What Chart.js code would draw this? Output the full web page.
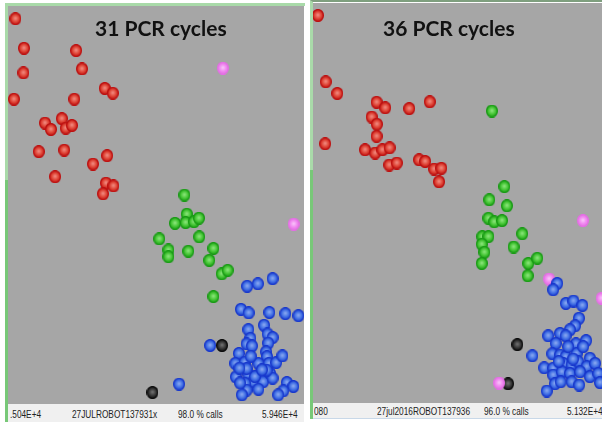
<!DOCTYPE html>
<html>
<head>
<meta charset="utf-8">
<title>31 vs 36 PCR cycles</title>
<script src="https://cdn.jsdelivr.net/npm/chart.js@4.4.0/dist/chart.umd.min.js"></script>
<style>
  body { margin: 0; width: 602px; height: 422px; background: #fff; position: relative; overflow: hidden; font-family: "Liberation Sans", Arial, sans-serif; }
  .frame { position: absolute; box-sizing: border-box; }
  .plot { position: absolute; background: #a6a6a6; }
  .title { position: absolute; font-family: Lato, "Open Sans", sans-serif; font-weight: bold; font-size: 21px; color: #111; white-space: nowrap; }
  .footer { position: absolute; background: #f0f0f0; }
  .footer span { position: absolute; font-size: 11.5px; color: #222; white-space: nowrap; transform: scaleX(0.72); transform-origin: left center; }
</style>
</head>
<body>
<div class="frame" style="left:5px;top:3px;width:300px;height:419px;border-left:3px solid #a9daa9;border-top:3px solid #a9daa9;"></div>
<div class="frame" style="left:5px;top:180px;width:3px;height:242px;background:#78c878;"></div>
<div class="plot" style="left:8px;top:6px;width:296px;height:398px;"><canvas id="chart31" width="296" height="398"></canvas></div>
<div class="title" id="title31" style="left:95px;top:15px;">31 PCR cycles</div>
<div class="footer" style="left:8px;top:404px;width:296px;height:18px;">
  <span style="left:2px;top:4px;">.504E+4</span>
  <span style="left:64px;top:4px;">27JULROBOT137931x</span>
  <span style="left:170px;top:4px;">98.0 % calls</span>
  <span style="left:254px;top:4px;">5.946E+4</span>
</div>

<div class="frame" style="left:310px;top:0px;width:292px;height:419px;border-left:3px solid #a9daa9;border-top:2px solid #7f9f7f;"></div>
<div class="frame" style="left:310px;top:170px;width:3px;height:249px;background:#78c878;"></div>
<div class="plot" style="left:313px;top:3px;width:289px;height:400px;"><canvas id="chart36" width="289" height="400"></canvas></div>
<div class="title" id="title36" style="left:383px;top:15px;">36 PCR cycles</div>
<div class="footer" style="left:313px;top:403px;width:289px;height:15px;border-bottom:1px solid #c8d8e8;">
  <span style="left:1px;top:2px;">080</span>
  <span style="left:64px;top:2px;">27jul2016ROBOT137936</span>
  <span style="left:171px;top:2px;">96.0 % calls</span>
  <span style="left:254px;top:2px;">5.132E+4</span>
</div>

<script>
// normalised allele signal, [x, y] in 0-100
const pcr31Red = [[2.5,96.8],[5.4,89.4],[23.0,88.8],[5.2,83.2],[25.0,84.2],[2.0,76.6],[22.4,76.6],[32.7,79.3],[35.4,78.1],[12.5,70.6],[14.5,69.0],[18.2,71.7],[19.5,69.3],[21.6,70.0],[10.4,63.4],[19.0,63.8],[33.5,62.4],[28.7,60.3],[15.9,57.1],[33.1,55.5],[35.6,54.8],[32.1,52.8]];
const pcr31Green = [[59.6,52.5],[60.4,47.7],[60.0,45.6],[56.4,45.4],[62.8,45.8],[64.5,46.7],[51.1,41.5],[64.6,42.0],[54.2,38.7],[54.2,37.0],[60.9,38.4],[69.4,39.1],[68.0,36.1],[72.2,32.7],[74.2,33.6],[69.4,27.0]];
const pcr31Blue = [[80.8,29.6],[84.4,30.2],[89.4,31.5],[78.7,23.8],[81.3,22.9],[88.3,23.0],[93.7,22.7],[98.1,22.2],[86.5,19.8],[81.2,18.7],[81.9,16.5],[80.6,15.1],[82.4,14.6],[87.7,17.6],[89.4,16.7],[87.9,15.3],[87.2,13.1],[87.5,11.9],[88.1,10.2],[78.0,12.7],[76.8,10.2],[80.0,10.5],[84.6,10.2],[90.6,10.4],[92.7,12.1],[77.0,6.8],[81.2,7.5],[84.6,7.3],[82.9,5.6],[80.1,5.2],[86.2,5.6],[88.5,7.7],[89.4,6.5],[84.6,3.7],[80.6,3.5],[79.0,2.3],[94.2,5.4],[96.4,4.4],[93.0,3.3],[91.3,2.3],[68.3,14.7],[57.8,5.0],[78.4,5.3],[83.4,6.9],[87.4,8.5],[80.6,8.9],[78.2,9.0],[82.0,12.0],[85.8,8.6]];
const pcr31Pink = [[72.6,84.4],[96.5,45.2]];
const pcr31Black = [[72.3,14.7],[48.8,2.9]];

const pcr36Red = [[1.7,96.9],[4.4,80.3],[8.4,77.4],[22.0,75.2],[25.0,73.8],[33.3,73.6],[40.4,75.3],[20.3,71.5],[22.1,69.7],[22.0,66.7],[4.2,64.8],[18.0,63.3],[21.5,62.5],[24.0,63.3],[26.5,63.8],[26.4,59.5],[29.0,60.0],[36.7,60.8],[38.8,60.4],[41.9,58.5],[44.4,58.7],[43.6,55.3]];
const pcr36Green = [[61.9,73.0],[66.2,54.1],[61.0,50.8],[67.1,49.3],[60.7,46.2],[62.7,45.3],[65.4,45.6],[72.4,42.3],[58.6,41.6],[60.7,41.6],[58.4,39.7],[59.3,37.7],[58.4,34.9],[69.4,39.0],[74.5,34.9],[77.6,36.2],[74.3,31.8]];
const pcr36Blue = [[84.5,29.9],[83.1,28.3],[87.5,24.9],[90.1,25.5],[93.2,24.4],[92.0,21.2],[90.7,19.3],[88.9,18.3],[85.5,17.4],[87.4,16.8],[81.4,16.8],[84.0,14.9],[91.0,14.8],[94.5,15.6],[75.9,11.8],[82.8,12.3],[85.5,12.0],[87.4,11.6],[91.2,12.4],[95.8,11.2],[80.0,8.8],[83.1,8.7],[86.6,9.9],[89.5,9.5],[91.8,10.3],[94.7,9.1],[97.6,9.9],[83.1,7.0],[86.1,7.8],[88.9,7.4],[92.4,7.8],[95.8,6.6],[98.7,7.4],[83.7,4.8],[85.7,5.3],[89.5,5.3],[92.1,4.5],[99.3,5.1],[80.9,3.0],[88.3,14.1],[93.5,14.1],[85.0,10.4],[90.0,11.0]];
const pcr36Pink = [[93.4,45.6],[81.7,31.0],[99.9,26.2],[64.4,5.0]];
const pcr36Black = [[70.7,14.6],[67.5,4.8]];

// shaded ellipse used as point marker
function makeDot(edge, fill, shine) {
  const c = document.createElement("canvas");
  c.width = 12;
  c.height = 13;
  const ctx = c.getContext("2d");
  const g = ctx.createRadialGradient(6, 6, 0.5, 6, 6.5, 6);
  g.addColorStop(0, shine);
  g.addColorStop(0.55, fill);
  g.addColorStop(1, edge);
  ctx.beginPath();
  ctx.ellipse(6, 6.5, 5.4, 6, 0, 0, Math.PI * 2);
  ctx.fillStyle = g;
  ctx.fill();
  ctx.lineWidth = 1.2;
  ctx.strokeStyle = edge;
  ctx.stroke();
  return c;
}

const dots = {
  red: makeDot("#bc1010", "#de4436", "#f0857a"),
  green: makeDot("#189a14", "#46c636", "#86e276"),
  blue: makeDot("#1838cc", "#4270e4", "#84a4f0"),
  pink: makeDot("#e46ee4", "#f088f0", "#f8c0f8"),
  black: makeDot("#0c0c0c", "#363636", "#6c6c6c")
};

function toPoints(arr) {
  return arr.map(([x, y]) => ({ x, y }));
}

function drawPanel(id, groups) {
  const datasets = groups.map(([data, color]) => ({
    data: toPoints(data),
    pointStyle: dots[color],
    clip: false
  }));
  new Chart(document.getElementById(id), {
    type: "scatter",
    data: { datasets },
    options: {
      responsive: false,
      animation: false,
      layout: { padding: 0, autoPadding: false },
      plugins: { legend: { display: false }, tooltip: { enabled: false } },
      scales: {
        x: { display: false, min: 0, max: 100 },
        y: { display: false, min: 0, max: 100 }
      }
    }
  });
}

drawPanel("chart31", [[pcr31Blue, "blue"], [pcr31Green, "green"], [pcr31Red, "red"], [pcr31Pink, "pink"], [pcr31Black, "black"]]);
drawPanel("chart36", [[pcr36Blue, "blue"], [pcr36Green, "green"], [pcr36Red, "red"], [pcr36Pink, "pink"], [pcr36Black, "black"]]);
</script>
</body>
</html>
